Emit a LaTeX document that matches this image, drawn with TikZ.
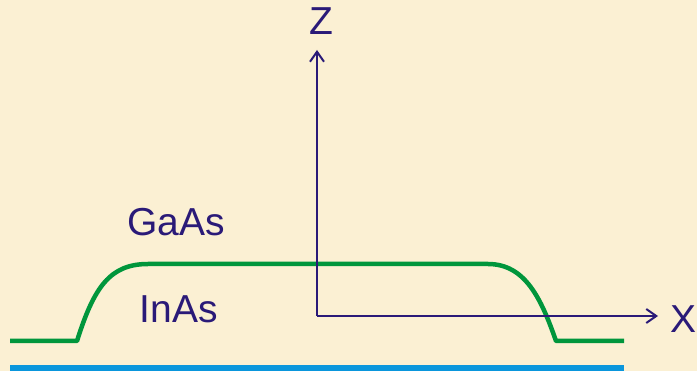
\documentclass[tikz,border=0pt]{standalone}
\usepackage{fontspec}
\setmainfont{Liberation Sans}
\usetikzlibrary{arrows.meta}
\definecolor{bgcream}{RGB}{251,240,211}
\definecolor{ink}{RGB}{42,26,120}
\definecolor{curvegreen}{RGB}{0,150,60}
\definecolor{lineblue}{RGB}{10,150,220}
\tikzset{
  lbl/.style={anchor=base,inner sep=0pt,text=ink,font=\fontsize{39}{40}\selectfont},
  axis/.style={draw=ink,line width=2.5pt,-{Straight Barb[length=10pt,width=14pt,line width=2pt]}},
  profile/.style={draw=curvegreen,line width=4.5pt,line join=round},
  substrate/.style={draw=lineblue,line width=6pt}
}
\begin{document}
\begin{tikzpicture}[x=1pt,y=-1pt]
\useasboundingbox (0,0) rectangle (697,371);
\fill[bgcream] (0,0) rectangle (697,371);
% substrate line
\coordinate (bl) at (10,368);
\coordinate (br) at (624,368);
\draw[substrate] (bl) -- (br);
% green profile
\coordinate (g0) at (10,341);
\coordinate (g1) at (77,341);
\coordinate (g2) at (148,264);
\coordinate (g3) at (488,264);
\coordinate (g4) at (556,341);
\coordinate (g5) at (624,341);
\draw[profile] (g0) -- (g1) .. controls (94,287) and (110,264) .. (g2) -- (g3)
  .. controls (525,264) and (541,298) .. (g4) -- (g5);
% axes
\coordinate (O) at (317,316);
\coordinate (zt) at (317,50);
\coordinate (xt) at (658,316);
\draw[axis] (O) -- (zt);
\draw[axis] (O) -- (xt);
% labels
\node[lbl] (zlab) at (321.5,35) {Z};
\node[lbl] (xlab) at (684,333) {X};
\node[lbl] (gaas) at (176,236) {GaAs};
\node[lbl] (inas) at (179,323) {InAs};
\end{tikzpicture}
\end{document}
